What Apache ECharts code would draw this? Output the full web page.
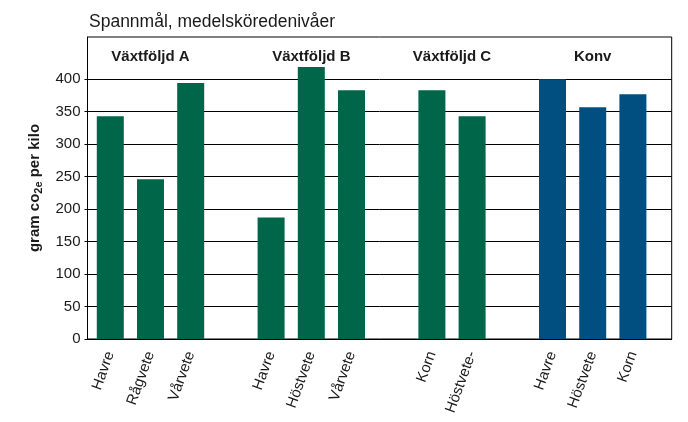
<!DOCTYPE html>
<html><head><meta charset="utf-8">
<script src="https://cdn.jsdelivr.net/npm/echarts@6/dist/echarts.min.js"></script>
<style>html,body{margin:0;padding:0;background:#fff}#c{width:688px;height:422px}</style>
</head><body><div id="c"></div>
<script>
// ---- data ----
const groupNames = ['Växtföljd A', 'Växtföljd B', 'Växtföljd C', 'Konv'];
const cropsA = ['Havre', 'Rågvete', 'Vårvete'];
const valuesA = [343, 246, 394];
const cropsB = ['Havre', 'Höstvete', 'Vårvete'];
const valuesB = [187, 419, 383];
const cropsC = ['Korn', 'Höstvete-'];
const valuesC = [383, 343];
const cropsK = ['Havre', 'Höstvete', 'Korn'];
const valuesK = [400, 357, 377];
const yTicks = [0, 50, 100, 150, 200, 250, 300, 350, 400];

// ---- styles / layout ----
const GREEN = '#00664a';
const BLUE = '#004f80';
const TXT = '#1a1a1a';
const HEADER_Y = 434;
const FONT = 'Liberation Sans, Arial, sans-serif';

const groups = [
  { name: groupNames[0], crops: cropsA, values: valuesA, color: GREEN },
  { name: groupNames[1], crops: cropsB, values: valuesB, color: GREEN },
  { name: groupNames[2], crops: cropsC, values: valuesC, color: GREEN },
  { name: groupNames[3], crops: cropsK, values: valuesK, color: BLUE }
];

const barData = [];
const headerData = [];
const labelAt = {};
const labelSlots = [];
let slot = 0;
groups.forEach(g => {
  const start = slot;
  g.crops.forEach((c, i) => {
    barData.push({ value: [slot, g.values[i]], itemStyle: { color: g.color } });
    labelAt[slot] = c;
    labelSlots.push(slot);
    slot++;
  });
  headerData.push({ value: [(start + slot - 1) / 2, HEADER_Y], name: g.name });
  slot++; // blank slot between groups
});

const chart = echarts.init(document.getElementById('c'));
chart.setOption({
  animation: false,
  textStyle: { fontFamily: FONT },
  title: {
    text: 'Spannmål, medelsköredenivåer',
    left: 84, top: 8,
    textStyle: { fontSize: 17.5, fontWeight: 'normal', color: TXT, fontFamily: FONT }
  },
  grid: { left: 87.5, right: 16.3, top: 37, bottom: 83, show: true, borderColor: '#000', borderWidth: 1 },
  xAxis: {
    type: 'value', min: -0.567, max: 13.965,
    axisLine: { onZero: false, lineStyle: { color: '#000', width: 1 } },
    axisTick: { show: false },
    splitLine: { show: false },
    axisLabel: {
      customValues: labelSlots,
      formatter: v => labelAt[v] || '',
      rotate: 70, margin: 13, fontSize: 15, color: TXT, fontFamily: FONT
    }
  },
  yAxis: {
    type: 'value', min: 0, max: 465, interval: 50,
    name: '{a|gram co}{s|2e}{a| per kilo}',
    nameLocation: 'middle', nameGap: 43, nameRotate: 90,
    nameTextStyle: {
      rich: {
        a: { fontSize: 15, fontWeight: 'bold', color: TXT, fontFamily: FONT, lineHeight: 20 },
        s: { fontSize: 11, fontWeight: 'bold', color: TXT, fontFamily: FONT, lineHeight: 20, padding: [8, 0, 0, 0] }
      }
    },
    axisLine: { show: true, onZero: false, lineStyle: { color: '#000', width: 1 } },
    axisTick: { show: true, length: 3, customValues: yTicks, lineStyle: { color: '#000' } },
    axisLabel: { customValues: yTicks, fontSize: 15, color: TXT, margin: 7, fontFamily: FONT },
    splitLine: { show: true, lineStyle: { color: '#000', width: 1 } }
  },
  series: [
    {
      type: 'bar', barWidth: 27, data: barData, z: 2
    },
    {
      type: 'scatter', symbolSize: 0, data: headerData, silent: true,
      itemStyle: { opacity: 1 },
      label: {
        show: true, position: 'inside', formatter: p => p.name,
        fontSize: 15, fontWeight: 'bold', color: TXT, fontFamily: FONT,
        textBorderWidth: 0, opacity: 1
      }
    }
  ]
});
</script></body></html>
